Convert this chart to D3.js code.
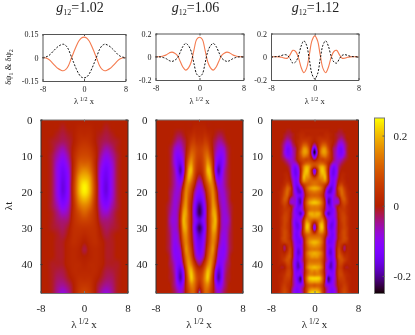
<!DOCTYPE html>
<html><head><meta charset="utf-8">
<script src="https://cdn.jsdelivr.net/npm/d3@7"></script>
<style>
html,body{margin:0;padding:0;background:#fff}
#c{position:relative;width:415px;height:335px;overflow:hidden}
canvas{position:absolute}
svg{position:absolute;left:0;top:0}
text{font-family:"Liberation Serif",serif;fill:#222}
</style></head><body><div id="c"></div>
<script>
const titles = ["1.02","1.06","1.12"];
const titleCenters = [80,195.5,315.5];
const xTicks = [-8,0,8];
const tTicks = [0,10,20,30,40];
const barTicks = [-0.2,0,0.2];
const topDomains = [0.15,0.2,0.2];
const topTickLabels = [["-0.15","0","0.15"],["-0.2","0","0.2"],["-0.2","0","0.2"]];
const profileX = [0,.5,1,1.5,2,2.5,3,3.5,4,4.5,5,5.5,6,6.5,7,7.5,8];
const orange102 = [.13,.125,.105,.072,.032,-.01,-.052,-.076,-.085,-.08,-.07,-.055,-.038,-.02,-.008,-.002,0];
const black102  = [-.13,-.125,-.105,-.072,-.032,.01,.052,.076,.085,.08,.07,.055,.038,.02,.008,.002,0];
const orange106 = [.168,.15,.06,-.045,-.095,-.115,-.09,-.04,.01,.03,.04,.033,.018,.008,.002,0,0];
const black106  = [-.17,-.15,-.06,.045,.095,.115,.09,.04,-.01,-.03,-.04,-.033,-.018,-.008,-.002,0,0];
const orange112 = [.18,.14,.015,-.1,-.137,-.09,-.005,.045,.055,.018,-.012,-.012,-.004,-.001,0,0,0];
const black112  = [-.19,-.15,-.02,.1,.137,.09,.005,-.045,-.055,-.018,.012,.018,.012,.004,.001,0,0];
const heat102 = [
[0,0,0,0,0,0,0,0,0],
[1,1,0,0,-1,0,0,0,0],
[2,2,0,-1,-2,-1,0,0,0],
[4,3,0,-2,-3,-2,-1,0,0],
[6,5,1,-3,-6,-4,-1,0,0],
[8,7,2,-5,-9,-6,-2,0,0],
[11,10,2,-7,-12,-8,-2,0,0],
[16,13,3,-9,-14,-9,-2,0,0],
[20,17,4,-10,-15,-9,-2,0,0],
[24,19,5,-10,-16,-9,-2,0,0],
[24,19,5,-10,-16,-9,-2,0,0],
[20,16,4,-9,-14,-8,-2,0,0],
[15,12,3,-7,-11,-6,-2,0,0],
[11,8,3,-5,-7,-4,-1,0,0],
[7,6,3,-3,-4,-3,-1,0,0],
[4,4,3,-1,-3,-2,-1,0,0],
[2,3,3,0,-2,-1,0,0,0],
[0,2,3,1,-1,-1,0,0,0],
[-2,1,2,1,-1,-1,0,0,0],
[0,1,2,1,-1,-1,0,0,0],
[1,2,2,1,-1,-1,-1,0,0],
[2,2,2,0,-2,-2,-1,0,0],
[3,3,1,-1,-3,-3,-1,0,0],
[5,4,0,-3,-5,-4,-1,0,0],
[7,5,0,-5,-8,-5,-1,0,0]];
const heat106 = [
[0,0,0,0,0,0,0,0,0,0,0,0,0,0,0,0,0],
[1,1,1,0,0,0,0,0,0,0,0,0,0,0,0,0,0],
[2,2,3,2,1,0,-1,-2,-2,-1,0,0,0,0,0,0,0],
[4,4,6,5,2,-1,-3,-5,-5,-3,-1,0,0,0,0,0,0],
[6,7,9,9,4,-1,-5,-8,-9,-7,-3,-1,0,0,0,0,0],
[6,7,11,13,8,0,-7,-11,-12,-9,-4,-1,0,0,0,0,0],
[4,6,11,17,13,2,-9,-15,-14,-9,-4,-1,0,0,0,0,0],
[2,4,11,20,18,4,-11,-19,-14,-7,-3,-1,0,0,0,0,0],
[-3,0,8,16,19,9,-7,-14,-11,-6,-3,-1,0,0,0,0,0],
[-8,-5,3,10,15,13,0,-9,-9,-6,-3,-1,0,0,0,0,0],
[-12,-9,-3,6,12,15,6,-5,-8,-7,-4,-2,0,0,0,0,0],
[-15,-13,-6,3,10,16,9,-3,-7,-8,-5,-2,0,0,0,0,0],
[-21,-17,-9,1,9,17,13,0,-6,-8,-6,-3,-1,0,0,0,0],
[-22,-18,-10,1,10,18,17,3,-5,-8,-7,-4,-1,0,0,0,0],
[-17,-14,-8,1,10,17,19,5,-5,-8,-8,-5,-1,0,0,0,0],
[-22,-18,-10,1,10,18,17,3,-5,-8,-7,-4,-1,0,0,0,0],
[-18,-15,-8,2,10,16,13,1,-7,-9,-7,-3,-1,0,0,0,0],
[-15,-13,-6,3,11,15,10,-2,-8,-10,-7,-3,-1,0,0,0,0],
[-14,-11,-4,6,13,16,6,-6,-10,-11,-7,-3,-1,0,0,0,0],
[-11,-8,-1,9,15,13,2,-9,-11,-10,-6,-2,0,0,0,0,0],
[-4,-1,6,14,17,10,-3,-12,-12,-8,-4,-2,0,0,0,0,0],
[4,6,13,20,17,5,-10,-17,-14,-7,-3,-1,0,0,0,0,0],
[6,9,16,21,14,2,-12,-19,-14,-6,-2,-1,0,0,0,0,0],
[2,7,13,15,10,2,-8,-13,-10,-5,-2,0,0,0,0,0,0],
[-5,3,11,11,7,1,-5,-8,-6,-3,-1,0,0,0,0,0,0]];
const heat112 = [
[0,0,0,0,0,0,0,0,0,0,0,0,0,0,0,0,0],
[0,0,0,0,0,0,0,0,0,0,0,0,0,0,0,0,0],
[0,0,0,0,0,0,0,0,0,0,0,0,0,0,0,0,0],
[1,1,1,1,1,1,0,0,0,-1,-1,0,0,0,0,0,0],
[1,1,1,1,2,2,1,0,-1,-2,-2,-1,0,0,0,0,0],
[1,2,3,3,3,3,1,0,-1,-3,-4,-2,0,0,0,0,0],
[0,2,4,6,6,4,2,0,-2,-6,-7,-4,-1,0,0,0,0],
[-6,0,6,11,11,6,2,-1,-4,-9,-10,-6,-2,0,0,0,0],
[-18,-4,9,16,16,9,2,-3,-6,-12,-13,-7,-2,0,0,0,0],
[-24,-8,10,17,17,11,3,-3,-7,-12,-13,-8,-2,0,0,0,0],
[-16,-3,8,13,14,9,3,-3,-7,-11,-11,-6,-2,0,0,0,0],
[-3,3,7,7,8,6,2,-3,-7,-8,-6,-3,-1,0,0,0,0],
[8,9,11,11,8,3,-2,-7,-8,-6,-3,-1,0,0,0,0,0],
[6,10,17,19,14,3,-7,-13,-10,-4,-1,0,0,0,0,0,0],
[-12,3,17,21,16,2,-10,-15,-11,-3,0,0,0,0,0,0,0],
[-7,5,16,20,18,3,-11,-15,-10,-2,1,1,0,0,0,0,0],
[6,10,15,17,19,4,-10,-13,-8,-1,2,1,0,0,0,0,0],
[12,12,12,14,15,4,-10,-13,-6,1,3,2,0,0,0,0,0],
[14,13,11,9,5,-3,-13,-13,-5,4,7,3,1,0,0,0,0],
[19,18,15,9,-1,-11,-17,-13,-3,8,11,6,2,0,0,0,0],
[14,13,11,6,-5,-16,-17,-11,-3,6,12,8,3,1,0,0,0],
[11,11,9,4,-6,-13,-13,-9,-3,3,11,9,4,1,0,0,0],
[16,15,13,7,-4,-17,-16,-8,-7,-3,8,10,5,1,0,0,0],
[21,20,17,10,-2,-18,-16,-9,-8,-5,5,8,5,1,0,0,0],
[15,15,13,8,-3,-13,-15,-9,-3,1,4,6,3,1,0,0,0],
[14,14,12,6,-4,-12,-14,-12,-4,3,5,5,3,1,0,0,0],
[18,19,17,7,-8,-18,-15,-11,-5,2,6,6,3,1,0,0,0],
[17,17,15,10,-2,-12,-12,-11,-5,2,6,7,4,1,0,0,0],
[8,11,14,15,3,-7,-12,-13,-6,1,6,7,4,1,0,0,0],
[-5,6,18,19,5,-8,-15,-14,-6,1,5,7,4,1,0,0,0],
[-12,4,18,20,6,-9,-15,-13,-5,1,5,7,5,1,0,0,0],
[-2,8,16,16,6,-6,-13,-12,-5,1,6,8,5,1,0,0,0],
[10,11,12,10,3,-6,-13,-13,-5,2,6,8,5,1,0,0,0],
[15,15,14,9,-1,-11,-14,-12,-5,2,6,8,6,1,0,0,0],
[20,19,16,10,-2,-13,-14,-11,-3,4,6,6,4,1,0,0,0],
[17,16,14,8,-2,-11,-13,-10,-2,5,3,-2,1,1,0,0,0],
[14,14,12,7,-2,-12,-16,-10,-1,7,2,-3,1,1,0,0,0],
[19,18,16,10,-2,-13,-17,-11,-1,8,5,1,2,1,0,0,0],
[17,17,14,9,-2,-11,-15,-11,-1,9,8,4,3,1,0,0,0],
[13,13,12,7,-2,-9,-15,-12,-3,7,9,6,3,1,0,0,0],
[15,15,14,8,-4,-11,-18,-13,-4,6,7,3,1,1,0,0,0],
[20,19,17,10,-4,-13,-18,-13,-3,5,5,0,-1,0,0,0,0],
[15,16,13,7,-4,-10,-14,-12,-2,6,6,2,1,0,0,0,0],
[14,15,14,8,-3,-13,-12,-11,-2,6,7,4,2,1,0,0,0],
[22,22,20,11,-3,-20,-16,-10,-3,5,6,5,2,1,0,0,0],
[18,18,16,9,-5,-18,-15,-9,-3,3,5,5,3,1,0,0,0],
[10,11,10,5,-5,-10,-11,-9,-3,2,4,6,4,1,0,0,0],
[16,16,13,6,-2,-8,-12,-11,-5,1,5,7,5,1,0,0,0],
[22,22,18,7,-2,-9,-13,-12,-6,1,5,8,5,2,0,0,0]];

function palette(g){ // gnuplot default pm3d palette
  const r=Math.sqrt(g), gr=g*g*g, b=Math.max(0,Math.sin(2*Math.PI*g));
  return [r*255,gr*255,b*255];
}
const colorScale = d3.scaleSequential(palette).domain([-0.25,0.25]).clamp(true);
function cubic(vals){
  const n=vals.length-1;
  return u=>{
    const s=Math.max(0,Math.min(n,u*n)),i=Math.min(n-1,Math.floor(s)),f=s-i;
    const p0=vals[Math.max(0,i-1)],p1=vals[i],p2=vals[i+1],p3=vals[Math.min(n,i+2)];
    return .5*((2*p1)+(-p0+p2)*f+(2*p0-5*p1+4*p2-p3)*f*f+(-p0+3*p1-3*p2+p3)*f*f*f);
  };
}

const svg = d3.select("#c").append("svg").attr("width",415).attr("height",335);
const root = d3.select("#c");

const heatPanels = [
 {left:40.5,right:127.5,grid:heat102},
 {left:155.5,right:242.5,grid:heat106},
 {left:271,right:358,grid:heat112}
];
const topPanels = [
 {left:42.5,right:125.5,top:34,bottom:81,o:orange102,k:black102},
 {left:155.5,right:243.5,top:33.5,bottom:80,o:orange106,k:black106},
 {left:271,right:358.5,top:33.5,bottom:80,o:orange112,k:black112}
];
const hTop=119.5,hBottom=293;

function drawXLabel(cx,y,size){
  const t=svg.append("text").attr("x",cx).attr("y",y).attr("text-anchor","middle").attr("font-size",size);
  t.append("tspan").text("λ");
  t.append("tspan").attr("dy",-size*0.35).attr("font-size",size*0.72).text(" 1/2");
  t.append("tspan").attr("dy",size*0.35).text(" x");
}
function frameAxis(g,color){
  g.selectAll(".domain").attr("stroke",color);
  g.selectAll("line").attr("stroke",color);
  g.selectAll("text").attr("fill","#222").attr("font-family","Liberation Serif");
}

heatPanels.forEach((p,i)=>{
  const x=d3.scaleLinear().domain([-8,8]).range([p.left,p.right]);
  const y=d3.scaleLinear().domain([0,48]).range([hTop,hBottom]);
  const w=Math.round(p.right-p.left),h=Math.round(hBottom-hTop);
  const cv=root.insert("canvas","svg").attr("width",w).attr("height",h)
     .style("left",p.left+"px").style("top",hTop+"px").style("width",(p.right-p.left)+"px").style("height",(hBottom-hTop)+"px").node();
  const ctx=cv.getContext("2d");
  const img=ctx.createImageData(w,h);
  const rowInterp=p.grid.map(r=>cubic([...r.slice(1).reverse(),...r].map(v=>v/100)));
  for(let px=0;px<w;px++){
    const u=x.invert(p.left+px+.5)/16+.5;
    const colI=cubic(rowInterp.map(f=>f(u)));
    for(let py=0;py<h;py++){
      const c=colorScale(colI(y.invert(hTop+py+.5)/48));
      const k=(py*w+px)*4;
      img.data[k]=c[0];img.data[k+1]=c[1];img.data[k+2]=c[2];img.data[k+3]=255;
    }
  }
  ctx.putImageData(img,0,0);
  const gx=svg.append("g").attr("transform",`translate(0,${hBottom})`)
    .call(d3.axisBottom(x).tickValues(xTicks).tickFormat(String).tickSizeInner(-2).tickSizeOuter(0).tickPadding(11));
  gx.selectAll("text").attr("font-size",11);
  frameAxis(gx,"#777");
  const gxt=svg.append("g").attr("transform",`translate(0,${hTop})`)
    .call(d3.axisTop(x).tickValues(xTicks).tickFormat("").tickSizeInner(-2).tickSizeOuter(0));
  frameAxis(gxt,"#777");
  const gy=svg.append("g").attr("transform",`translate(${p.left},0)`)
    .call(d3.axisLeft(y).tickValues(tTicks).tickFormat(String).tickSizeInner(-2).tickSizeOuter(0).tickPadding(8));
  gy.selectAll("text").attr("font-size",11);
  frameAxis(gy,"#333");
  const gyr=svg.append("g").attr("transform",`translate(${p.right},0)`)
    .call(d3.axisRight(y).tickValues(tTicks).tickFormat("").tickSizeInner(-2).tickSizeOuter(0));
  frameAxis(gyr,"#333");
  drawXLabel((p.left+p.right)/2,328,11);
});
svg.append("text").attr("transform","translate(12,206) rotate(-90)").attr("text-anchor","middle").attr("font-size",11).text("λt");

topPanels.forEach((p,i)=>{
  const x=d3.scaleLinear().domain([-8,8]).range([p.left,p.right]);
  const y=d3.scaleLinear().domain([-topDomains[i],topDomains[i]]).range([p.bottom,p.top]);
  const mirrorX=[...profileX.slice(1).reverse().map(v=>-v),...profileX];
  const mirror=a=>[...a.slice(1).reverse(),...a];
  const line=d3.line().x((d,j)=>x(mirrorX[j])).y(d=>y(d)).curve(d3.curveCatmullRom);
  svg.append("path").attr("d",line(mirror(p.o))).attr("fill","none").attr("stroke","#f47a4e").attr("stroke-width",1.1);
  svg.append("path").attr("d",line(mirror(p.k))).attr("fill","none").attr("stroke","#111").attr("stroke-width",1).attr("stroke-dasharray","2,1.5");
  const gx=svg.append("g").attr("transform",`translate(0,${p.bottom})`)
    .call(d3.axisBottom(x).tickValues(xTicks).tickFormat(String).tickSizeInner(-2).tickSizeOuter(0).tickPadding(5));
  gx.selectAll("text").attr("font-size",8);
  frameAxis(gx,"#555");
  const gxt=svg.append("g").attr("transform",`translate(0,${p.top})`)
    .call(d3.axisTop(x).tickValues(xTicks).tickFormat("").tickSizeInner(-2).tickSizeOuter(0));
  frameAxis(gxt,"#555");
  const d=topDomains[i];
  const gy=svg.append("g").attr("transform",`translate(${p.left},0)`)
    .call(d3.axisLeft(y).tickValues([-d,0,d]).tickFormat((v,j)=>topTickLabels[i][j]).tickSizeInner(-2).tickSizeOuter(0).tickPadding(4));
  gy.selectAll("text").attr("font-size",8);
  frameAxis(gy,"#555");
  const gyr=svg.append("g").attr("transform",`translate(${p.right},0)`)
    .call(d3.axisRight(y).tickValues([-d,0,d]).tickFormat("").tickSizeInner(-2).tickSizeOuter(0));
  frameAxis(gyr,"#555");
  drawXLabel((p.left+p.right)/2,104,8.5);
  const tx=svg.append("text").attr("x",titleCenters[i]).attr("y",12).attr("text-anchor","middle").attr("font-size",14);
  tx.append("tspan").attr("font-style","italic").text("g");
  tx.append("tspan").attr("dy",3).attr("font-size",8).text("12");
  tx.append("tspan").attr("dy",-3).text("="+titles[i]);
});
const yl=svg.append("text").attr("transform","translate(11,67) rotate(-90)").attr("text-anchor","middle").attr("font-size",8.5);
yl.append("tspan").text("δψ");yl.append("tspan").attr("dy",2).attr("font-size",6).text("1");
yl.append("tspan").attr("dy",-2).text(" & δψ");yl.append("tspan").attr("dy",2).attr("font-size",6).text("2");

// colour bar
const barLeft=374.5,barRight=384.5,barTop=118,barBottom=293.5;
const by=d3.scaleLinear().domain([-0.25,0.25]).range([barBottom,barTop]);
const bcv=root.insert("canvas","svg").attr("width",10).attr("height",176)
  .style("left",barLeft+"px").style("top",barTop+"px").style("height",(barBottom-barTop)+"px").style("width","10px").node();
const bctx=bcv.getContext("2d");
d3.range(176).forEach(i=>{
  const c=colorScale(by.invert(barTop+i+.5));
  bctx.fillStyle=`rgb(${c[0]|0},${c[1]|0},${c[2]|0})`;
  bctx.fillRect(0,i,10,1);
});
svg.append("rect").attr("x",barLeft).attr("y",barTop).attr("width",barRight-barLeft).attr("height",barBottom-barTop).attr("fill","none").attr("stroke","#777");
const gb=svg.append("g").attr("transform",`translate(${barRight},0)`)
  .call(d3.axisRight(by).tickValues(barTicks).tickFormat(d=>d===0?"0":d3.format(".1f")(d).replace("−","-")).tickSizeInner(-2).tickSizeOuter(0).tickPadding(9));
gb.selectAll("text").attr("font-size",11);
frameAxis(gb,"#555");
gb.select(".domain").attr("stroke","none");
</script></body></html>
